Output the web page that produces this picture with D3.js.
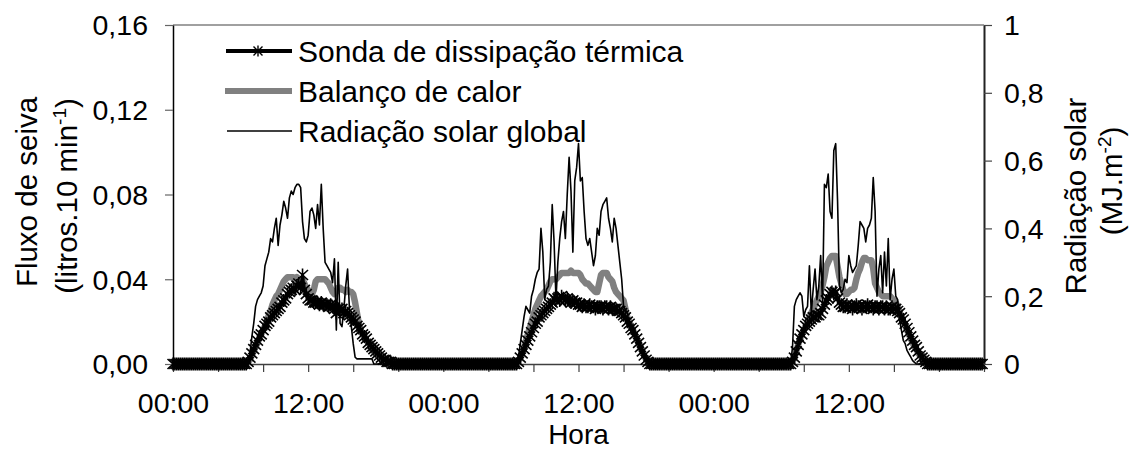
<!DOCTYPE html>
<html>
<head>
<meta charset="utf-8">
<script src="https://cdn.jsdelivr.net/npm/d3@7"></script>
<style>
  body { margin: 0; background: #fff; }
  svg text { font-family: "Liberation Sans", Arial, sans-serif; fill: #000; }
</style>
</head>
<body>
<svg width="1138" height="450"></svg>
<script>
// leituras a cada 10 min, 3 dias (432 pontos)
const sonda = [
  // dia 1
  0,0,0,0,0,0,0,0,0,0,0,0,
  0,0,0,0,0,0,0,0,0,0,0,0,
  0,0,0,0,0,0,0,0,0,0,0,0,
  0,0,0,0,.001,.003,.005,.007,.009,.011,.013,.014,
  .016,.018,.019,.020,.022,.023,.024,.025,.026,.027,.029,.030,
  .031,.033,.034,.035,.036,.035,.037,.038,.036,.042,.035,.033,
  .031,.030,.030,.029,.029,.029,.028,.029,.028,.028,.028,.027,
  .028,.027,.026,.024,.026,.025,.026,.024,.025,.024,.023,.022,
  .021,.020,.018,.017,.016,.014,.013,.012,.010,.009,.008,.007,
  .006,.005,.004,.003,.002,.002,.001,.001,.001,0,0,0,
  0,0,0,0,0,0,0,0,0,0,0,0,
  0,0,0,0,0,0,0,0,0,0,0,0,
  // dia 2
  0,0,0,0,0,0,0,0,0,0,0,0,
  0,0,0,0,0,0,0,0,0,0,0,0,
  0,0,0,0,0,0,0,0,0,0,0,0,
  0,0,0,0,.001,.003,.005,.007,.009,.011,.013,.015,
  .017,.019,.020,.022,.023,.024,.025,.026,.027,.028,.029,.031,
  .030,.031,.030,.032,.031,.030,.031,.030,.029,.030,.029,.029,
  .028,.028,.027,.028,.027,.027,.028,.027,.027,.026,.027,.027,
  .027,.026,.027,.027,.026,.027,.026,.026,.026,.025,.025,.024,
  .023,.022,.020,.019,.017,.016,.014,.012,.010,.008,.006,.004,
  .002,.001,0,0,0,0,0,0,0,0,0,0,
  0,0,0,0,0,0,0,0,0,0,0,0,
  0,0,0,0,0,0,0,0,0,0,0,0,
  // dia 3
  0,0,0,0,0,0,0,0,0,0,0,0,
  0,0,0,0,0,0,0,0,0,0,0,0,
  0,0,0,0,0,0,0,0,0,0,0,0,
  0,0,0,0,0,0,.001,.003,.006,.009,.012,.014,
  .016,.018,.019,.020,.021,.022,.022,.023,.023,.024,.026,.028,
  .030,.031,.033,.034,.033,.034,.031,.029,.028,.027,.027,.028,
  .027,.027,.026,.027,.028,.027,.027,.026,.027,.027,.028,.027,
  .027,.026,.027,.027,.026,.027,.027,.026,.027,.026,.026,.027,
  .026,.026,.025,.024,.022,.021,.019,.017,.015,.013,.011,.009,
  .008,.006,.004,.003,.002,.001,0,0,0,0,0,0,
  0,0,0,0,0,0,0,0,0,0,0,0,
  0,0,0,0,0,0,0,0,0,0,0,0
];

const balanco = [
  // dia 1
  0,0,0,0,0,0,0,0,0,0,0,0,
  0,0,0,0,0,0,0,0,0,0,0,0,
  0,0,0,0,0,0,0,0,0,0,0,0,
  0,0,0,0,.001,.002,.004,.006,.008,.010,.012,.014,
  .016,.018,.020,.023,.025,.028,.030,.032,.033,.035,.037,.039,
  .040,.041,.041,.041,.041,.040,.041,.040,.040,.040,.038,.036,
  .035,.034,.033,.035,.039,.040,.040,.040,.040,.040,.039,.038,
  .036,.034,.033,.034,.036,.036,.035,.035,.034,.035,.034,.034,
  .033,.029,.024,.019,.016,.014,.013,.011,.010,.009,.008,.007,
  .006,.005,.004,.003,.002,.002,.001,.001,0,0,0,0,
  0,0,0,0,0,0,0,0,0,0,0,0,
  0,0,0,0,0,0,0,0,0,0,0,0,
  // dia 2
  0,0,0,0,0,0,0,0,0,0,0,0,
  0,0,0,0,0,0,0,0,0,0,0,0,
  0,0,0,0,0,0,0,0,0,0,0,0,
  0,0,0,0,.001,.003,.005,.008,.011,.014,.017,.020,
  .023,.026,.028,.030,.032,.033,.034,.035,.037,.039,.040,.040,
  .040,.041,.042,.043,.043,.043,.043,.043,.044,.043,.043,.043,
  .043,.042,.040,.039,.038,.038,.037,.036,.035,.034,.034,.038,
  .042,.043,.043,.043,.041,.040,.039,.036,.034,.033,.032,.031,
  .030,.026,.022,.020,.018,.016,.014,.012,.010,.008,.006,.004,
  .002,.001,0,0,0,0,0,0,0,0,0,0,
  0,0,0,0,0,0,0,0,0,0,0,0,
  0,0,0,0,0,0,0,0,0,0,0,0,
  // dia 3
  0,0,0,0,0,0,0,0,0,0,0,0,
  0,0,0,0,0,0,0,0,0,0,0,0,
  0,0,0,0,0,0,0,0,0,0,0,0,
  0,0,0,0,0,0,.001,.003,.006,.009,.012,.014,
  .016,.018,.020,.022,.024,.026,.028,.030,.032,.034,.037,.041,
  .046,.048,.050,.051,.051,.051,.046,.041,.038,.035,.033,.033,
  .034,.035,.035,.036,.040,.043,.045,.048,.050,.050,.049,.049,
  .049,.045,.038,.036,.034,.033,.032,.032,.032,.032,.032,.031,
  .030,.029,.027,.025,.022,.020,.018,.016,.014,.012,.010,.008,
  .007,.005,.004,.003,.002,.001,0,0,0,0,0,0,
  0,0,0,0,0,0,0,0,0,0,0,0,
  0,0,0,0,0,0,0,0,0,0,0,0
];

const radiacao = [
  // dia 1
  0,0,0,0,0,0,0,0,0,0,0,0,
  0,0,0,0,0,0,0,0,0,0,0,0,
  0,0,0,0,0,0,0,0,0,0,0,0,
  0,0,0,0,0,.03,.08,.12,.17,.19,.20,.21,
  .23,.29,.31,.33,.37,.36,.40,.43,.35,.41,.44,.48,
  .46,.43,.49,.51,.50,.52,.53,.53,.52,.42,.37,.36,
  .38,.45,.46,.44,.40,.47,.41,.53,.40,.30,.29,.28,
  .27,.24,.31,.10,.30,.12,.11,.16,.23,.28,.16,.11,
  .06,.02,.015,.015,.015,.015,.015,.015,.015,.015,.015,0,
  0,0,0,0,0,0,0,0,0,0,0,0,
  0,0,0,0,0,0,0,0,0,0,0,0,
  0,0,0,0,0,0,0,0,0,0,0,0,
  // dia 2
  0,0,0,0,0,0,0,0,0,0,0,0,
  0,0,0,0,0,0,0,0,0,0,0,0,
  0,0,0,0,0,0,0,0,0,0,0,0,
  0,0,0,0,.02,.06,.10,.14,.17,.16,.15,.20,
  .22,.25,.27,.28,.40,.33,.19,.22,.23,.30,.47,.36,
  .19,.30,.37,.42,.45,.37,.50,.61,.51,.33,.54,.58,
  .65,.54,.55,.45,.37,.35,.37,.33,.29,.32,.40,.38,
  .45,.47,.48,.49,.43,.40,.36,.43,.40,.35,.30,.25,
  .17,.16,.15,.12,.10,.09,.10,.08,.06,.04,.03,.02,
  .01,0,0,0,0,0,0,0,0,0,0,0,
  0,0,0,0,0,0,0,0,0,0,0,0,
  0,0,0,0,0,0,0,0,0,0,0,0,
  // dia 3
  0,0,0,0,0,0,0,0,0,0,0,0,
  0,0,0,0,0,0,0,0,0,0,0,0,
  0,0,0,0,0,0,0,0,0,0,0,0,
  0,0,0,0,0,0,.05,.17,.19,.20,.21,.20,
  .14,.16,.17,.29,.15,.22,.28,.19,.23,.32,.18,.53,
  .52,.56,.45,.43,.63,.65,.48,.23,.21,.22,.25,.24,
  .32,.29,.27,.28,.29,.35,.42,.41,.40,.36,.40,.41,
  .43,.55,.45,.20,.28,.32,.21,.33,.23,.37,.19,.25,
  .28,.20,.19,.13,.10,.07,.06,.04,.03,.02,.01,.005,
  0,0,0,0,0,0,0,0,0,0,0,0,
  0,0,0,0,0,0,0,0,0,0,0,0,
  0,0,0,0,0,0,0,0,0,0,0,0
];

const leftTicks = [0, 0.04, 0.08, 0.12, 0.16];
const leftTickLabels = ["0,00", "0,04", "0,08", "0,12", "0,16"];
const rightTicks = [0, 0.2, 0.4, 0.6, 0.8, 1];
const rightTickLabels = ["0", "0,2", "0,4", "0,6", "0,8", "1"];
const xTickHours = [0, 4, 8, 12, 16, 20, 24, 28, 32, 36, 40, 44, 48, 52, 56, 60, 64, 68, 72];
const xLabelHours = [0, 12, 24, 36, 48, 60];
const xLabels = ["00:00", "12:00", "00:00", "12:00", "00:00", "12:00"];
const seriesNames = ["Sonda de dissipação térmica", "Balanço de calor", "Radiação solar global"];

const svg = d3.select("svg");
const plotLeft = 173, plotRight = 984, plotTop = 25, plotBottom = 364;

const x = d3.scaleLinear().domain([0, 72]).range([plotLeft, plotRight]);
const yL = d3.scaleLinear().domain([0, 0.16]).range([plotBottom, plotTop]);
const yR = d3.scaleLinear().domain([0, 1]).range([plotBottom, plotTop]);

const hour = i => i / 6;

// top border
svg.append("line")
    .attr("x1", plotLeft).attr("x2", plotRight)
    .attr("y1", plotTop).attr("y2", plotTop)
    .attr("stroke", "#808080").attr("stroke-width", 1.5);

// axes
const xAxis = svg.append("g")
    .attr("transform", `translate(0,${plotBottom})`)
    .call(d3.axisBottom(x)
        .tickValues(xTickHours)
        .tickSize(8).tickSizeOuter(0).tickPadding(20.5)
        .tickFormat(d => {
            const k = xLabelHours.indexOf(d);
            return k >= 0 ? xLabels[k] : "";
        }));
xAxis.select(".domain").attr("stroke", "#404040").attr("stroke-width", 1.5);
xAxis.selectAll(".tick line").attr("stroke", "#404040").attr("stroke-width", 1.2);

const lAxis = svg.append("g")
    .attr("transform", `translate(${plotLeft},0)`)
    .call(d3.axisLeft(yL)
        .tickValues(leftTicks)
        .tickSize(8).tickSizeOuter(0).tickPadding(17)
        .tickFormat((d, i) => leftTickLabels[i]));
lAxis.select(".domain").attr("stroke", "#000").attr("stroke-width", 1.5);
lAxis.selectAll(".tick line").attr("stroke", "#666").attr("stroke-width", 1.2);

const rAxis = svg.append("g")
    .attr("transform", `translate(${plotRight},0)`)
    .call(d3.axisRight(yR)
        .tickValues(rightTicks)
        .tickSize(8).tickSizeOuter(0).tickPadding(12)
        .tickFormat((d, i) => rightTickLabels[i]));
rAxis.select(".domain").attr("stroke", "#222").attr("stroke-width", 2);
rAxis.selectAll(".tick line").attr("stroke", "#444").attr("stroke-width", 1.2);

svg.selectAll(".tick text")
    .attr("font-size", 28.5)
    .attr("font-family", "'Liberation Sans', Arial, sans-serif")
    .attr("fill", "#000");
lAxis.selectAll(".tick text").attr("dy", "0.35em");
rAxis.selectAll(".tick text").attr("dy", "0.35em");

// axis titles
svg.append("text")
    .attr("transform", "translate(37,192) rotate(-90)")
    .attr("text-anchor", "middle").attr("font-size", 29.5)
    .text("Fluxo de seiva");
const t2 = svg.append("text")
    .attr("transform", "translate(77,196) rotate(-90)")
    .attr("text-anchor", "middle").attr("font-size", 29.5);
t2.append("tspan").text("(litros.10 min");
t2.append("tspan").attr("dy", -11).attr("font-size", 19).text("-1");
t2.append("tspan").attr("dy", 11).text(")");

svg.append("text")
    .attr("transform", "translate(1086,196) rotate(-90)")
    .attr("text-anchor", "middle").attr("font-size", 29.5)
    .text("Radiação solar");
const t4 = svg.append("text")
    .attr("transform", "translate(1122,181) rotate(-90)")
    .attr("text-anchor", "middle").attr("font-size", 29.5);
t4.append("tspan").text("(MJ.m");
t4.append("tspan").attr("dy", -11).attr("font-size", 19).text("-2");
t4.append("tspan").attr("dy", 11).text(")");

svg.append("text")
    .attr("x", (plotLeft + plotRight) / 2).attr("y", 444)
    .attr("text-anchor", "middle").attr("font-size", 28)
    .text("Hora");

// series
const lineL = d3.line().x((d, i) => x(hour(i))).y(d => yL(d));
const lineR = d3.line().x((d, i) => x(hour(i))).y(d => yR(d));

svg.append("path").datum(balanco)
    .attr("d", lineL).attr("fill", "none")
    .attr("stroke", "#808080").attr("stroke-width", 6.5)
    .attr("stroke-linejoin", "round");

svg.append("path").datum(sonda)
    .attr("d", lineL).attr("fill", "none")
    .attr("stroke", "#000").attr("stroke-width", 3)
    .attr("stroke-linejoin", "round");

const starPath = "M0,-6.5V6.5M-5.5,-5L5.5,5M-5.5,5L5.5,-5";
svg.append("g").selectAll("path")
    .data(sonda)
    .join("path")
    .attr("d", starPath)
    .attr("transform", (d, i) => `translate(${x(hour(i))},${yL(d)})`)
    .attr("fill", "none").attr("stroke", "#000").attr("stroke-width", 1.6);

svg.append("path").datum(radiacao)
    .attr("d", lineR).attr("fill", "none")
    .attr("stroke", "#000").attr("stroke-width", 1.6)
    .attr("stroke-linejoin", "round");

// legend
const legend = svg.append("g");
const rows = [51, 91, 131];
legend.append("line").attr("x1", 226).attr("x2", 292).attr("y1", rows[0]).attr("y2", rows[0])
    .attr("stroke", "#000").attr("stroke-width", 4);
legend.append("path").attr("d", "M0,-5.5V5.5M-4.5,-4.5L4.5,4.5M-4.5,4.5L4.5,-4.5")
    .attr("transform", `translate(258,${rows[0]})`)
    .attr("fill", "none").attr("stroke", "#000").attr("stroke-width", 1.4);
legend.append("line").attr("x1", 225).attr("x2", 292).attr("y1", rows[1]).attr("y2", rows[1])
    .attr("stroke", "#808080").attr("stroke-width", 6);
legend.append("line").attr("x1", 227).attr("x2", 292).attr("y1", rows[2]).attr("y2", rows[2])
    .attr("stroke", "#000").attr("stroke-width", 1.6);
legend.selectAll("text")
    .data(seriesNames)
    .join("text")
    .attr("x", 298).attr("y", (d, i) => rows[i])
    .attr("dy", "0.35em").attr("font-size", 30)
    .text(d => d);
</script>
</body>
</html>
